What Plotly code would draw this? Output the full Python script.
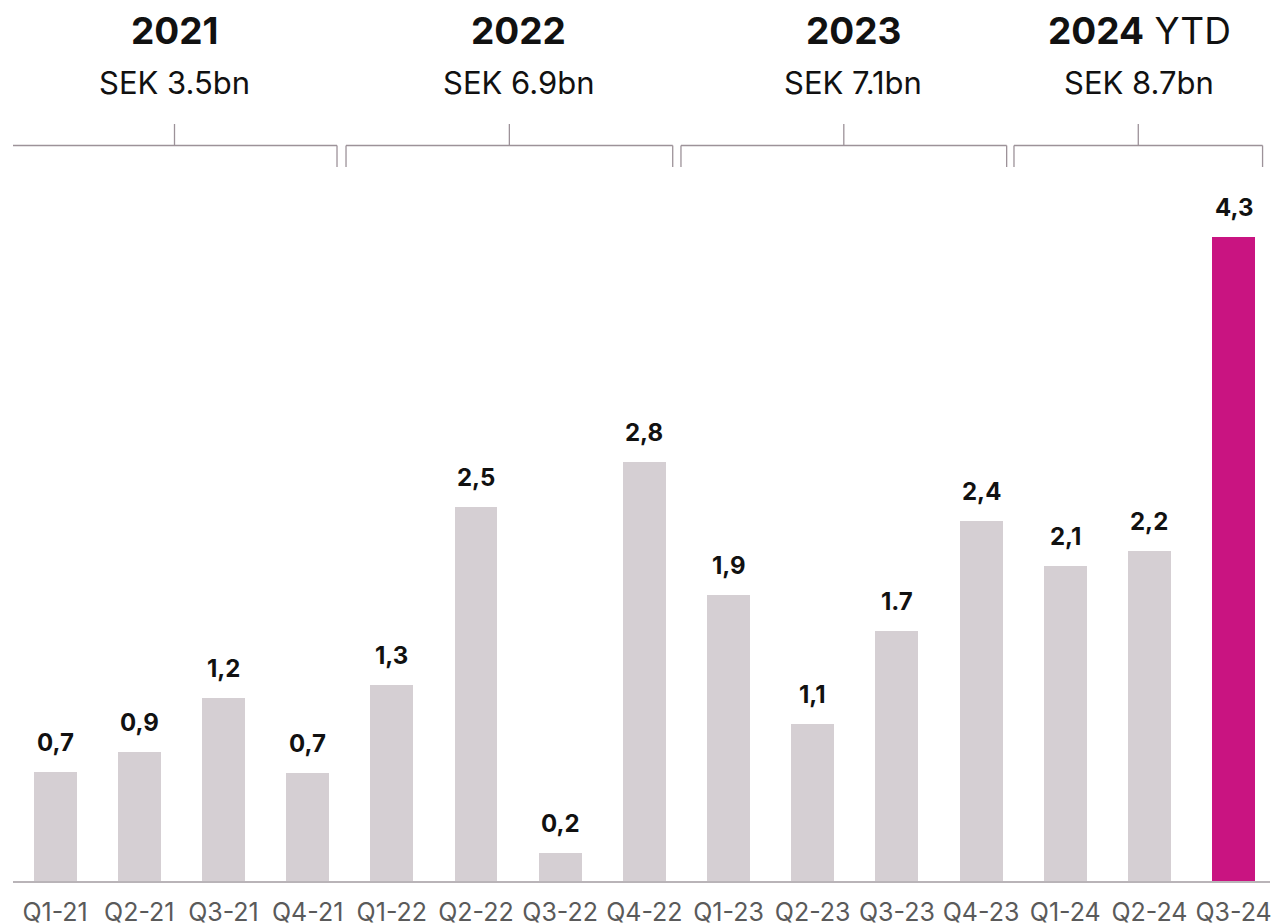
import plotly.graph_objects as go

# ---- data ----
quarters = ["Q1-21", "Q2-21", "Q3-21", "Q4-21",
            "Q1-22", "Q2-22", "Q3-22", "Q4-22",
            "Q1-23", "Q2-23", "Q3-23", "Q4-23",
            "Q1-24", "Q2-24", "Q3-24"]
values = [0.73, 0.86, 1.22, 0.72, 1.31, 2.50, 0.19, 2.80,
          1.91, 1.05, 1.67, 2.40, 2.10, 2.20, 4.30]
value_labels = ["0,7", "0,9", "1,2", "0,7", "1,3", "2,5", "0,2", "2,8",
                "1,9", "1,1", "1.7", "2,4", "2,1", "2,2", "4,3"]

year_titles = ["<b>2021</b>", "<b>2022</b>", "<b>2023</b>", "<b>2024</b> YTD"]
year_totals = ["SEK 3.5bn", "SEK 6.9bn", "SEK 7.1bn", "SEK 8.7bn"]

# layout positions of the year brackets / header texts (category units)
bracket_left = [-0.512, 3.456, 7.435, 11.391]
bracket_right = [3.349, 7.337, 11.304, 14.344]
year_text_x = [1.42, 5.51, 9.48, 12.88]

GREY = "#d5cfd3"
MAGENTA = "#c91481"
BRACKET = "#9d9299"
FONT = "Inter"

PLOT_TOP = 180
PLOT_H = 701

colors = [GREY] * (len(quarters) - 1) + [MAGENTA]
xs = list(range(len(quarters)))

fig = go.Figure()
fig.add_trace(go.Bar(
    x=xs, y=values, width=0.51,
    marker=dict(color=colors, line=dict(width=0)),
    hoverinfo="skip",
))

annotations = []
for i, (v, lab) in enumerate(zip(values, value_labels)):
    annotations.append(dict(
        x=i, y=v, xref="x", yref="y", text=f"<b>{lab}</b>",
        showarrow=False, yanchor="bottom", yshift=13,
        font=dict(family=FONT, size=24, color="#111111"),
    ))


def py(pix):
    return 1 + (PLOT_TOP - pix) / PLOT_H


shapes = []
for k in range(len(year_titles)):
    left = bracket_left[k]
    right = bracket_right[k]
    mid = (left + right) / 2
    annotations.append(dict(
        x=year_text_x[k], y=1, xref="x", yref="paper", text=year_titles[k],
        showarrow=False, yanchor="middle", yshift=PLOT_TOP - 30,
        font=dict(family=FONT, size=37, color="#111111"),
    ))
    annotations.append(dict(
        x=year_text_x[k], y=1, xref="x", yref="paper", text=year_totals[k],
        showarrow=False, yanchor="middle", yshift=PLOT_TOP - 82,
        font=dict(family=FONT, size=31, color="#111111"),
    ))
    line = dict(color=BRACKET, width=1.3)
    shapes.append(dict(type="line", xref="x", yref="paper",
                       x0=left, x1=right, y0=py(145.5), y1=py(145.5), line=line))
    shapes.append(dict(type="line", xref="x", yref="paper",
                       x0=left, x1=left, y0=py(145.5), y1=py(167), line=line))
    shapes.append(dict(type="line", xref="x", yref="paper",
                       x0=right, x1=right, y0=py(145.5), y1=py(167), line=line))
    shapes.append(dict(type="line", xref="x", yref="paper",
                       x0=mid, x1=mid, y0=py(124), y1=py(145.5), line=line))

fig.update_layout(
    width=1273, height=924,
    margin=dict(l=13, r=3, t=PLOT_TOP, b=924 - PLOT_TOP - PLOT_H, autoexpand=False),
    paper_bgcolor="white", plot_bgcolor="white",
    showlegend=False,
    bargap=0,
    xaxis=dict(
        range=[-0.5, -0.5 + 1257 / 84.18],
        tickmode="array", tickvals=xs, ticktext=quarters,
        tickfont=dict(family=FONT, size=25, color="#5a5a5a"),
        ticklabelstandoff=8,
        automargin=False,
        showgrid=False, zeroline=False,
        showline=True, linecolor="#b9b4b8", linewidth=2,
        ticks="", fixedrange=True,
    ),
    yaxis=dict(
        range=[0, PLOT_H / 149.8],
        visible=False, showgrid=False, zeroline=False, fixedrange=True,
    ),
    annotations=annotations,
    shapes=shapes,
    font=dict(family=FONT),
)

fig.write_html("out.html")
